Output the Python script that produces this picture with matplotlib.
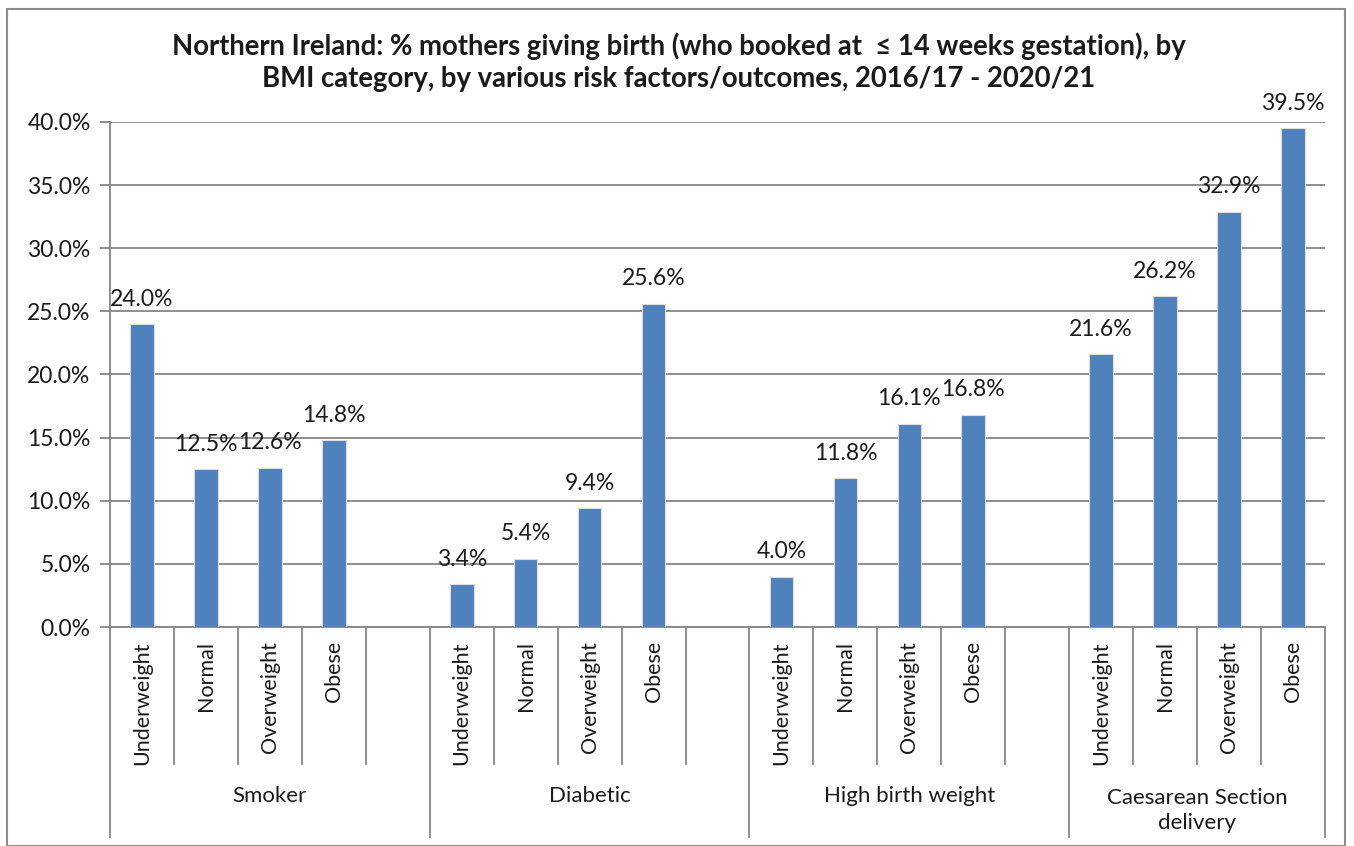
import matplotlib.pyplot as plt
from matplotlib.patches import Rectangle
from matplotlib.transforms import blended_transform_factory

plt.rcParams['font.family'] = ['Lato', 'DejaVu Sans']

# data
groups = ["Smoker", "Diabetic", "High birth weight", "Caesarean Section\ndelivery"]
bmi = ["Underweight", "Normal", "Overweight", "Obese"]
smoker = [24.0, 12.5, 12.6, 14.8]
diabetic = [3.4, 5.4, 9.4, 25.6]
high_bw = [4.0, 11.8, 16.1, 16.8]
caesarean = [21.6, 26.2, 32.9, 39.5]
yticks = [0, 5, 10, 15, 20, 25, 30, 35, 40]

series = [smoker, diabetic, high_bw, caesarean]

W, H = 1354, 846
fig = plt.figure(figsize=(W / 100, H / 100), dpi=100)
ax = fig.add_axes([110 / W, 1 - 627 / H, (1325 - 110) / W, (627 - 122) / H])

blue = "#4F81BD"
grid = "#868686"
txt = "#1a1a1a"

# lay out slots: 4 bars per group, empty slot between groups
pos = 0
bar_x, bar_v, bar_lab = [], [], []
bounds = [0]
grp_span = []
for gi, vals in enumerate(series):
    start = pos
    for ci, v in enumerate(vals):
        bar_x.append(pos + 0.5)
        bar_v.append(v)
        bar_lab.append(bmi[ci])
        pos += 1
        bounds.append(pos)
    if gi < len(series) - 1:
        pos += 1
        bounds.append(pos)
    grp_span.append((start, pos))
nslots = pos

ax.bar(bar_x, bar_v, width=0.37, color=blue, edgecolor="#dcdcdc", linewidth=0.8, zorder=3)

for x, v in zip(bar_x, bar_v):
    ax.annotate(f"{v:.1f}%", (x, v), xytext=(0, 18), textcoords="offset points",
                ha="center", va="center", fontsize=16.5, color=txt)

ax.set_xlim(0, nslots)
ax.set_ylim(0, 40)
ax.set_yticks(yticks)
ax.set_yticklabels([f"{t:.1f}%" for t in yticks], fontsize=16.5, color=txt)
ax.yaxis.grid(True, color=grid, linewidth=1.3, zorder=0)
ax.set_axisbelow(True)
ax.tick_params(axis="y", length=7, color=grid, width=1.3, pad=7)
ax.tick_params(axis="x", length=0)
ax.set_xticks([])
for s in ["top", "right"]:
    ax.spines[s].set_visible(False)
for s in ["left", "bottom"]:
    ax.spines[s].set_color(grid)
    ax.spines[s].set_linewidth(1.3)

# category separators and labels below the axis
tr = blended_transform_factory(ax.transData, ax.transAxes)
group_edges = {0, nslots} | {s for s, e in grp_span}
for b in bounds:
    y1 = -0.416 if b in group_edges else -0.271
    ax.plot([b, b], [0, y1], transform=tr, color=grid, linewidth=1.3, clip_on=False)

for x, lab in zip(bar_x, bar_lab):
    ax.text(x, -0.028, lab, transform=tr, rotation=90, ha="center", va="top",
            fontsize=15.5, color=txt)

for (s, e), g in zip(grp_span, groups):
    yy = -0.363 if "\n" in g else -0.335
    ax.text((s + e) / 2, yy, g, transform=tr, ha="center", va="center",
            fontsize=16, color=txt, linespacing=1.3)

fig.suptitle("Northern Ireland: % mothers giving birth (who booked at  \u2264 14 weeks gestation), by\n"
             "BMI category, by various risk factors/outcomes, 2016/17 - 2020/21",
             x=679 / W, y=1 - 62 / H, va="center", fontsize=19.8, fontweight="bold",
             color=txt, linespacing=1.3)

fig.patches.append(Rectangle((7 / W, 0), (1345 - 7) / W, 1 - 9 / H, transform=fig.transFigure,
                             fill=False, edgecolor="#8c8c8c", linewidth=1.5))

fig.savefig("out.png", dpi=100)
